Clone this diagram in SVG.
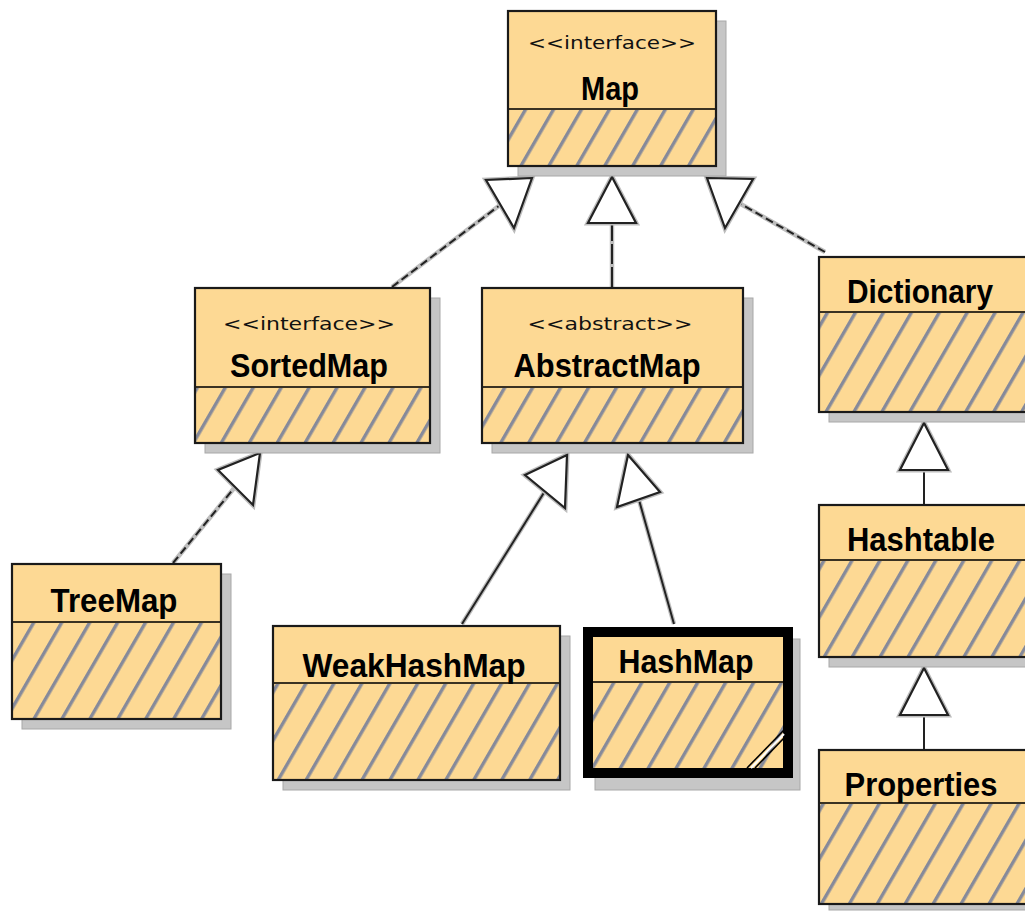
<svg xmlns="http://www.w3.org/2000/svg" width="1025" height="912" viewBox="0 0 1025 912">
<defs>
  <pattern id="hatch" patternUnits="userSpaceOnUse" width="24.2" height="20" patternTransform="rotate(30)">
    <rect x="0" y="0" width="24.2" height="20" fill="#fdd994"/>
    <rect x="0" y="0" width="3.4" height="20" fill="#868a9a"/>
  </pattern>
  <style>
    .shadow{fill:#c6c6c6;stroke:#a8a8a8;stroke-width:1}
    .head{fill:#fdd994}
    .body{fill:url(#hatch)}
    .frame{fill:none;stroke:#1a1a1a;stroke-width:2.2}
    .thick{fill:none;stroke:#000;stroke-width:10}
    .div{stroke:#3a3222;stroke-width:2.2}
    .st{font-family:"DejaVu Sans",sans-serif;font-size:18px;fill:#111;text-anchor:middle}
    .nm{font-family:"Liberation Sans",Arial,sans-serif;font-size:33px;font-weight:bold;fill:#000;text-anchor:middle}
    .halo{fill:none;stroke:#bdbdbd;stroke-width:4.5;stroke-linejoin:round}
    .ln{fill:none;stroke:#222;stroke-width:2}
    .dash{fill:none;stroke:#222;stroke-width:2;stroke-dasharray:8 4}
    .ldash{fill:none;stroke:#222;stroke-width:2;stroke-dasharray:20 3}
    .tri{fill:#fff;stroke:#222;stroke-width:2.2;stroke-linejoin:miter}
    .trih{fill:none;stroke:#bdbdbd;stroke-width:5;stroke-linejoin:miter}
  </style>
</defs>
<rect width="1025" height="912" fill="#fff"/>

<g id="connectors">
  <line class="halo" x1="392" y1="287" x2="500" y2="205"/>
  <line class="dash" x1="392" y1="287" x2="500" y2="205"/>
  <polygon class="trih" points="532,178 486,180 514,228"/>
  <polygon class="tri" points="532,178 486,180 514,228"/>
  <line class="halo" x1="612" y1="287" x2="612" y2="223"/>
  <line class="ldash" x1="612" y1="287" x2="612" y2="223"/>
  <polygon class="trih" points="612,177 588,223 636,223"/>
  <polygon class="tri" points="612,177 588,223 636,223"/>
  <line class="halo" x1="825" y1="252" x2="739" y2="203"/>
  <line class="dash" x1="825" y1="252" x2="739" y2="203"/>
  <polygon class="trih" points="707,178 753,179 725,228"/>
  <polygon class="tri" points="707,178 753,179 725,228"/>
  <line class="halo" x1="173" y1="563" x2="235" y2="487"/>
  <line class="dash" x1="173" y1="563" x2="235" y2="487"/>
  <polygon class="trih" points="260,453 218,470 253,505"/>
  <polygon class="tri" points="260,453 218,470 253,505"/>
  <line class="halo" x1="462" y1="624" x2="545" y2="491"/>
  <line class="ln" x1="462" y1="624" x2="545" y2="491"/>
  <polygon class="trih" points="567,455 525,475 565,508"/>
  <polygon class="tri" points="567,455 525,475 565,508"/>
  <line class="halo" x1="674" y1="624" x2="639" y2="500"/>
  <line class="ln" x1="674" y1="624" x2="639" y2="500"/>
  <polygon class="trih" points="628,455 660,492 617,507"/>
  <polygon class="tri" points="628,455 660,492 617,507"/>
  <line class="ln" x1="924" y1="505" x2="924" y2="470"/>
  <polygon class="trih" points="924,423 900,470 948,470"/>
  <polygon class="tri" points="924,423 900,470 948,470"/>
  <line class="ln" x1="924" y1="750" x2="924" y2="715"/>
  <polygon class="trih" points="924,668 900,715 948,715"/>
  <polygon class="tri" points="924,668 900,715 948,715"/>
</g>

<g id="Map">
  <rect class="shadow" x="518" y="21" width="208" height="155"/>
  <rect class="head" x="508" y="11" width="208" height="98"/>
  <rect class="body" x="508" y="109" width="208" height="57"/>
  <line class="div" x1="508" y1="109" x2="716" y2="109"/>
  <rect class="frame" x="508" y="11" width="208" height="155"/>
  <text class="st" x="612" y="49" textLength="168" lengthAdjust="spacingAndGlyphs">&lt;&lt;interface&gt;&gt;</text>
  <text class="nm" x="610" y="100" textLength="58" lengthAdjust="spacingAndGlyphs">Map</text>
</g>

<g id="SortedMap">
  <rect class="shadow" x="205" y="298" width="235" height="155"/>
  <rect class="head" x="195" y="288" width="235" height="99"/>
  <rect class="body" x="195" y="387" width="235" height="56"/>
  <line class="div" x1="195" y1="387" x2="430" y2="387"/>
  <rect class="frame" x="195" y="288" width="235" height="155"/>
  <text class="st" x="309" y="330" textLength="172" lengthAdjust="spacingAndGlyphs">&lt;&lt;interface&gt;&gt;</text>
  <text class="nm" x="309" y="377" textLength="158" lengthAdjust="spacingAndGlyphs">SortedMap</text>
</g>

<g id="AbstractMap">
  <rect class="shadow" x="492" y="298" width="261" height="155"/>
  <rect class="head" x="482" y="288" width="261" height="99"/>
  <rect class="body" x="482" y="387" width="261" height="56"/>
  <line class="div" x1="482" y1="387" x2="743" y2="387"/>
  <rect class="frame" x="482" y="288" width="261" height="155"/>
  <text class="st" x="610" y="330" textLength="165" lengthAdjust="spacingAndGlyphs">&lt;&lt;abstract&gt;&gt;</text>
  <text class="nm" x="607" y="377" textLength="187" lengthAdjust="spacingAndGlyphs">AbstractMap</text>
</g>

<g id="Dictionary">
  <rect class="shadow" x="829" y="267" width="220" height="155"/>
  <rect class="head" x="819" y="257" width="220" height="55"/>
  <rect class="body" x="819" y="312" width="220" height="100"/>
  <line class="div" x1="819" y1="312" x2="1039" y2="312"/>
  <rect class="frame" x="819" y="257" width="220" height="155"/>
  <text class="nm" x="920" y="303" textLength="146" lengthAdjust="spacingAndGlyphs">Dictionary</text>
</g>

<g id="Hashtable">
  <rect class="shadow" x="829" y="515" width="220" height="152"/>
  <rect class="head" x="819" y="505" width="220" height="55"/>
  <rect class="body" x="819" y="560" width="220" height="97"/>
  <line class="div" x1="819" y1="560" x2="1039" y2="560"/>
  <rect class="frame" x="819" y="505" width="220" height="152"/>
  <text class="nm" x="921" y="551" textLength="148" lengthAdjust="spacingAndGlyphs">Hashtable</text>
</g>

<g id="Properties">
  <rect class="shadow" x="829" y="760" width="220" height="150"/>
  <rect class="head" x="819" y="750" width="220" height="53"/>
  <rect class="body" x="819" y="803" width="220" height="101"/>
  <line class="div" x1="819" y1="803" x2="1039" y2="803"/>
  <rect class="frame" x="819" y="750" width="220" height="154"/>
  <text class="nm" x="921" y="796" textLength="153" lengthAdjust="spacingAndGlyphs">Properties</text>
</g>

<g id="TreeMap">
  <rect class="shadow" x="22" y="574" width="209" height="155"/>
  <rect class="head" x="12" y="564" width="209" height="58"/>
  <rect class="body" x="12" y="622" width="209" height="97"/>
  <line class="div" x1="12" y1="622" x2="221" y2="622"/>
  <rect class="frame" x="12" y="564" width="209" height="155"/>
  <text class="nm" x="114" y="612" textLength="127" lengthAdjust="spacingAndGlyphs">TreeMap</text>
</g>

<g id="WeakHashMap">
  <rect class="shadow" x="283" y="636" width="287" height="154"/>
  <rect class="head" x="273" y="626" width="287" height="57"/>
  <rect class="body" x="273" y="683" width="287" height="97"/>
  <line class="div" x1="273" y1="683" x2="560" y2="683"/>
  <rect class="frame" x="273" y="626" width="287" height="154"/>
  <text class="nm" x="414" y="677" textLength="223" lengthAdjust="spacingAndGlyphs">WeakHashMap</text>
</g>

<g id="HashMap">
  <rect class="shadow" x="595" y="639" width="205" height="151"/>
  <rect class="head" x="588" y="632" width="200" height="50"/>
  <rect class="body" x="588" y="682" width="200" height="91"/>
  <line class="div" x1="588" y1="682" x2="788" y2="682"/>
  <rect class="thick" x="588" y="632" width="200" height="141"/>
  <line x1="747" y1="768" x2="784" y2="730" stroke="#000" stroke-width="1.6"/>
  <line x1="751" y1="768" x2="784" y2="734" stroke="#fff" stroke-width="2"/>
  <line x1="755" y1="768" x2="784" y2="738" stroke="#000" stroke-width="1.6"/>
  <text class="nm" x="686" y="673" textLength="135" lengthAdjust="spacingAndGlyphs">HashMap</text>
</g>
</svg>
